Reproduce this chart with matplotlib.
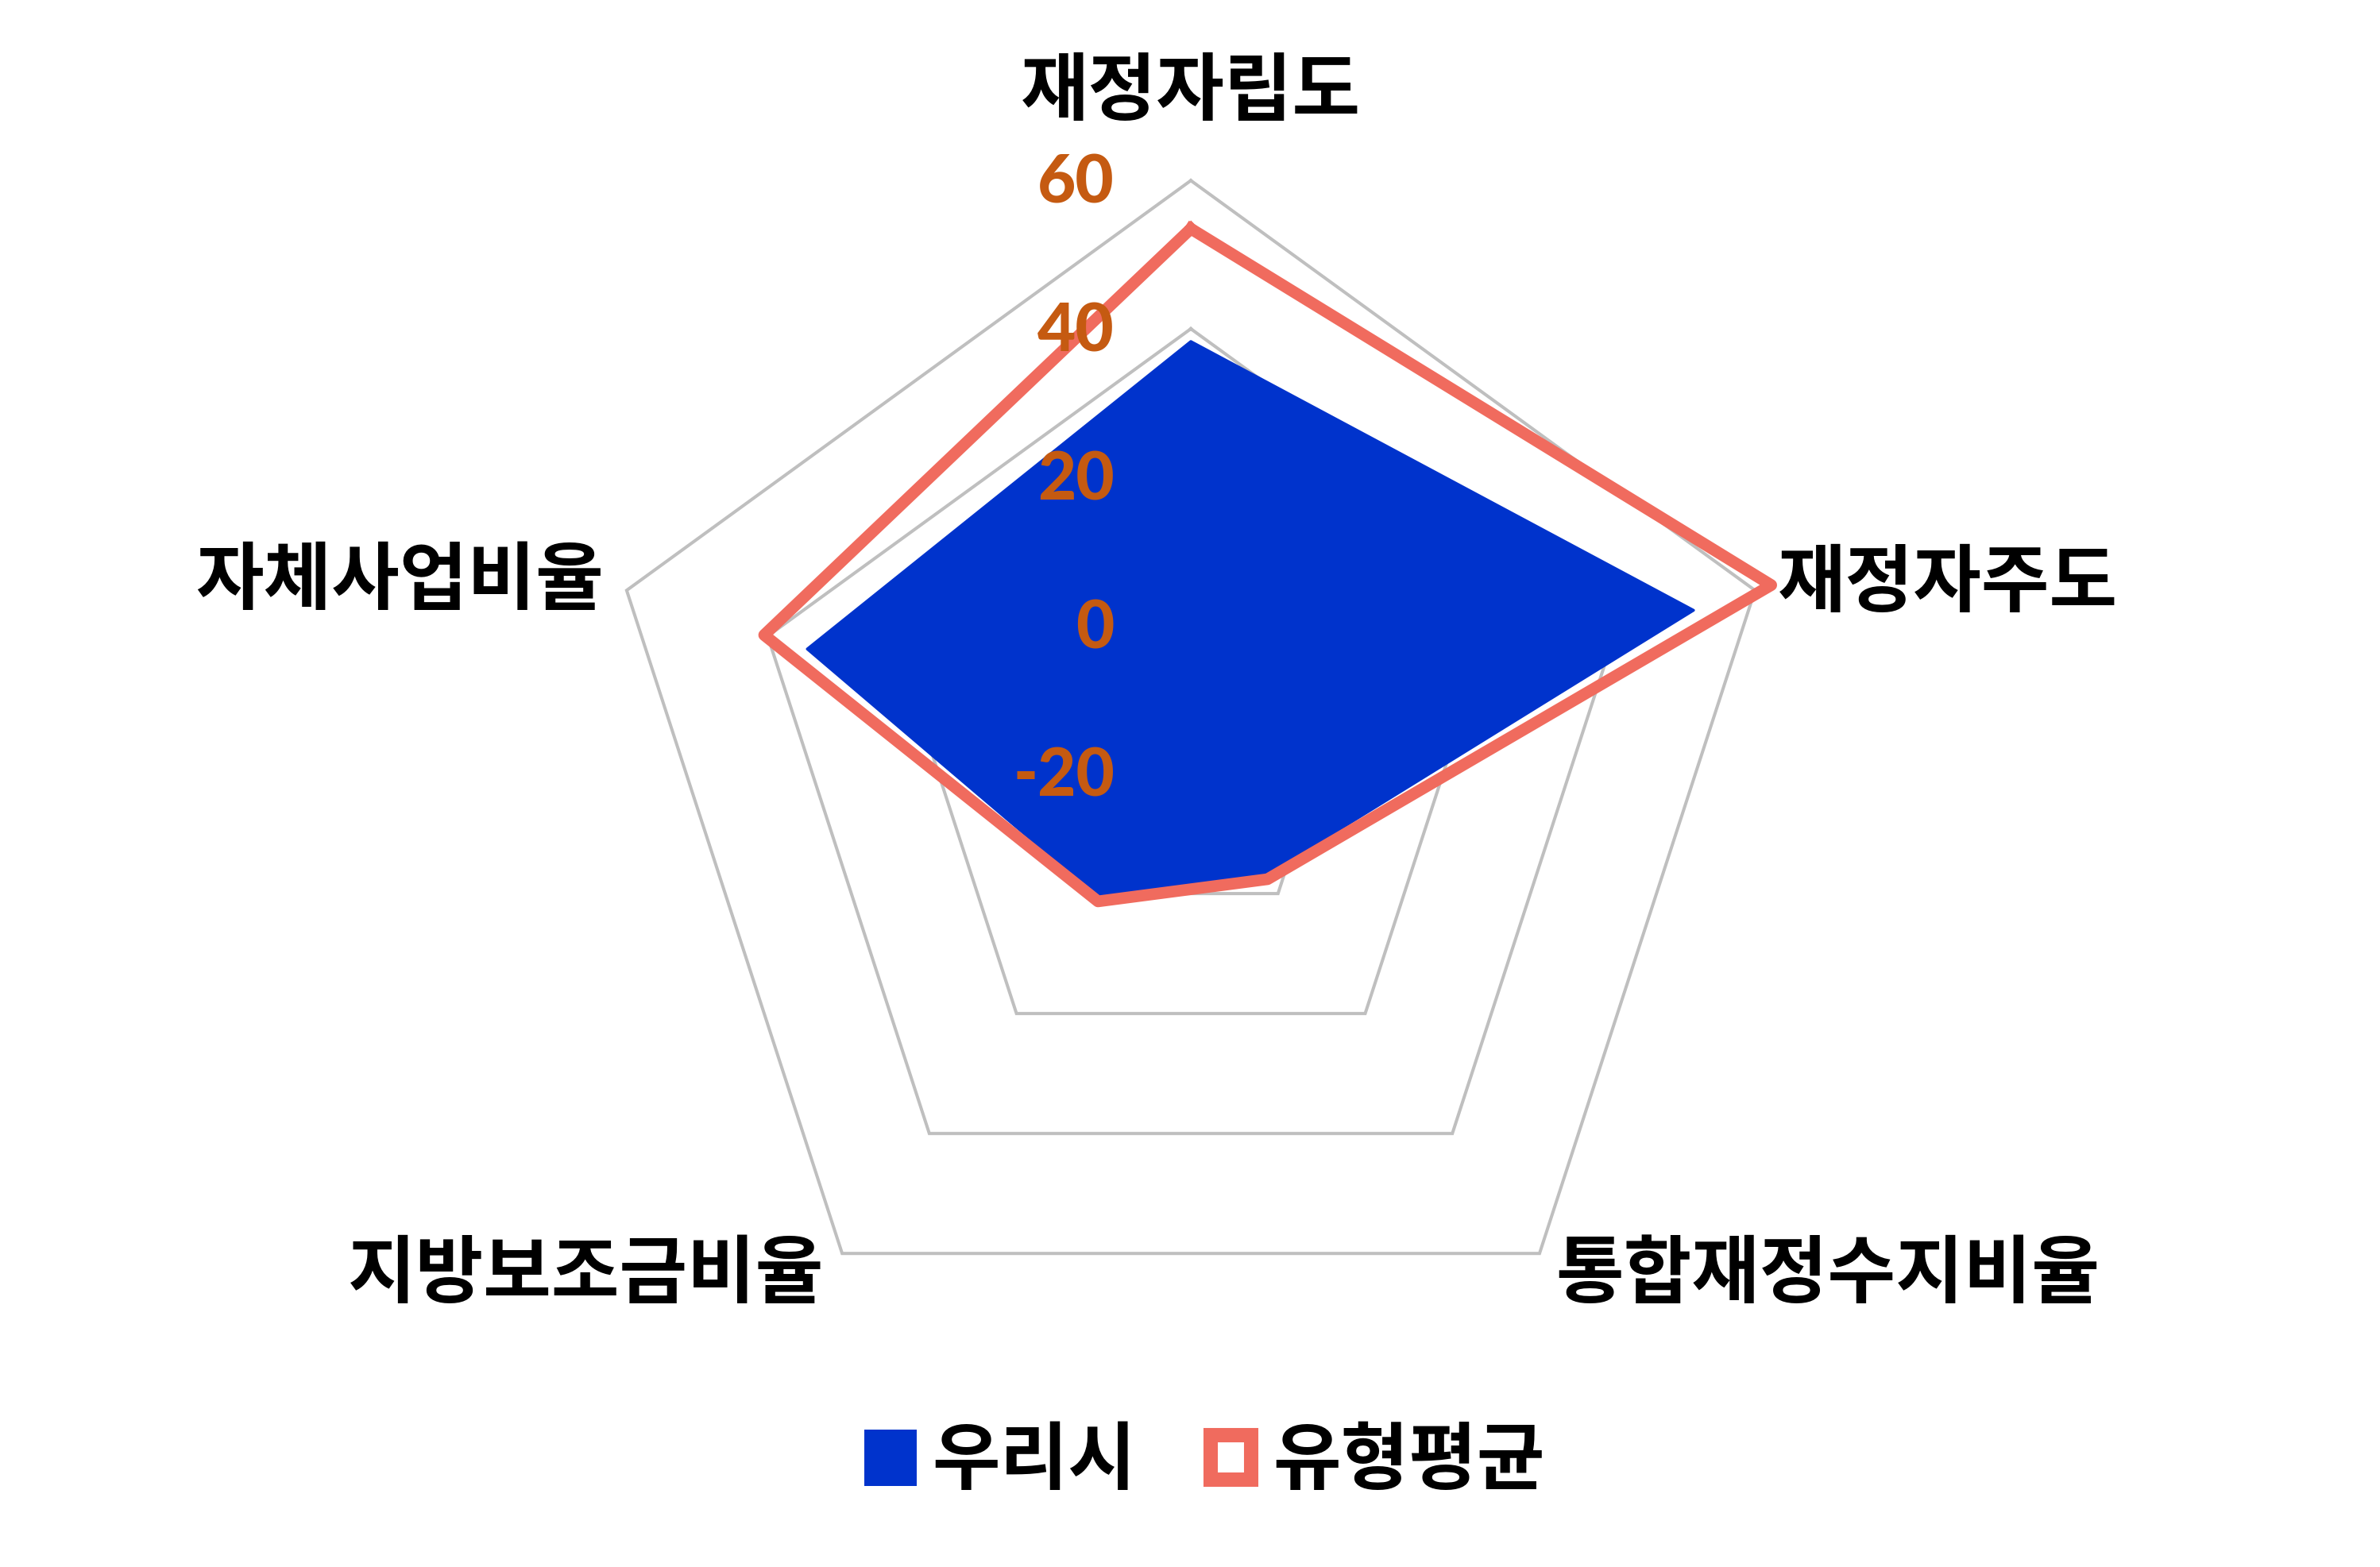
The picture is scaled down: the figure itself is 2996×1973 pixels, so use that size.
import numpy as np
import matplotlib
matplotlib.use('Agg')
import matplotlib.pyplot as plt
from matplotlib.patches import Patch
from matplotlib.transforms import offset_copy

plt.rcParams['font.family'] = ['Noto Sans CJK KR', 'DejaVu Sans']

categories = ['재정자립도', '재정자주도', '통합재정수지비율', '지방보조금비율', '자체사업비율']
our_city = [38.3, 51.3, -3.0, 0.8, 34.4]      # 우리시
type_avg = [53.5, 62.3, -2.4, 1.3, 40.5]      # 유형평균
series_names = ['우리시', '유형평균']
r_ticks = [-20, 0, 20, 40, 60]
r_grid = [0, 20, 40, 60]

blue = '#0033CC'
red = '#F06B5E'
grid_gray = '#BFBFBF'
tick_orange = '#C55A11'

n = len(categories)
angles = np.linspace(0, 2 * np.pi, n, endpoint=False)
ang_c = np.append(angles, angles[0])

fig = plt.figure(figsize=(14.98, 9.865), dpi=200)
ax = fig.add_axes([0.2511, 0.1278, 0.4985, 0.757], projection='polar')
ax.set_theta_offset(np.pi / 2)
ax.set_theta_direction(-1)
ax.set_ylim(-20, 60)
ax.grid(False)
ax.set_xticks([])
ax.set_yticks([])
ax.spines['polar'].set_visible(False)
ax.patch.set_visible(False)

# pentagon gridlines
for lv in r_grid:
    ax.plot(ang_c, [lv] * (n + 1), color=grid_gray, lw=1.45, zorder=1,
            clip_on=False, solid_joinstyle='miter')

# series
ax.fill(ang_c, our_city + [our_city[0]], facecolor=blue, edgecolor=blue,
        lw=1.2, joinstyle='round', zorder=2)
ax.plot(ang_c, type_avg + [type_avg[0]], color=red, lw=5.3,
        solid_joinstyle='round', zorder=3, clip_on=False)

# radial tick labels, left of the top axis
tick_tr = offset_copy(ax.transData, fig=fig, x=-34.6, y=-1.5, units='points')
for v in r_ticks:
    ax.text(0, v, str(v), transform=tick_tr, ha='right', va='center',
            fontsize=30, color=tick_orange, fontweight='black',
            family=['Lato', 'DejaVu Sans'], zorder=5)

# category labels around the outer pentagon
label_pos = [
    ((0, 40), 'center', 'center'),
    ((10.4, 2.9), 'left', 'center'),
    ((7.2, -9.7), 'left', 'center'),
    ((-8.3, -9.7), 'right', 'center'),
    ((-10.4, 4.0), 'right', 'center'),
]
for ang, cat, ((dx, dy), ha, va) in zip(angles, categories, label_pos):
    tr = offset_copy(ax.transData, fig=fig, x=dx, y=dy, units='points')
    ax.text(ang, 60, cat, transform=tr, ha=ha, va=va, fontsize=33.5,
            fontweight='bold', color='black', zorder=5)

handles = [
    Patch(facecolor=blue, edgecolor=blue, lw=5.4, joinstyle='round'),
    Patch(facecolor='white', edgecolor=red, lw=6.5, joinstyle='round'),
]
fig.legend(handles, series_names, loc='center', bbox_to_anchor=(0.5073, 1 - 1840 / 1973),
           ncol=2, frameon=False, prop={'size': 33.5, 'weight': 'bold'},
           handlelength=0.55, handleheight=0.55, handletextpad=0.3,
           columnspacing=1.0)

fig.savefig('out.png', dpi=200, facecolor='white')
